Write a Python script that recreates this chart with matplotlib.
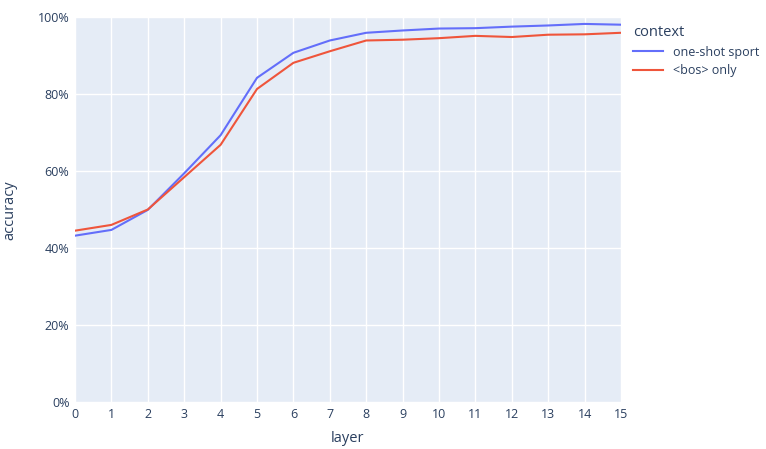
import numpy as np
import matplotlib.pyplot as plt
from matplotlib.ticker import FuncFormatter

plt.rcParams["font.family"] = ["Open Sans", "DejaVu Sans"]

layers = list(range(16))
one_shot_sport = [43.2, 44.7, 49.9, 59.4, 69.3, 84.2, 90.7, 93.9, 95.9, 96.5,
                  97.0, 97.1, 97.5, 97.8, 98.2, 98.0]
bos_only = [44.5, 46.0, 50.0, 58.4, 66.8, 81.3, 88.1, 91.1, 93.9, 94.1,
            94.5, 95.1, 94.8, 95.4, 95.5, 95.9]
series_names = ["one-shot sport", "<bos> only"]

TEXT = "#2a3f5f"
W, H = 766, 449

fig = plt.figure(figsize=(W / 100, H / 100), dpi=100)
ax = fig.add_axes([75 / W, 1 - 402 / H, 546 / W, 385 / H])
ax.set_facecolor("#E5ECF6")

ax.plot(layers, np.array(one_shot_sport) / 100, color="#636efa", lw=1.5, label=series_names[0])
ax.plot(layers, np.array(bos_only) / 100, color="#EF553B", lw=1.5, label=series_names[1])

ax.set_xlim(0, 15)
ax.set_ylim(0, 1)
ax.set_xticks(layers)
ax.set_yticks(np.arange(0, 1.01, 0.2))
ax.yaxis.set_major_formatter(FuncFormatter(lambda v, _: f"{v * 100:.0f}%"))
ax.grid(True, color="white", lw=1)
ax.set_axisbelow(True)
for s in ax.spines.values():
    s.set_visible(False)
ax.tick_params(length=0, colors=TEXT, labelsize=9, pad=4)

fig.text(10 / W, 1 - 210 / H, "accuracy", rotation=90, ha="center", va="center",
         color=TEXT, fontsize=10.5)
fig.text(348 / W, 1 - 438 / H, "layer", ha="center", va="center", color=TEXT, fontsize=10.5)

leg = ax.legend(title="context", loc="upper left", bbox_to_anchor=(628 / W, 1 - 20 / H),
                bbox_transform=fig.transFigure, frameon=False, fontsize=9,
                title_fontsize=10.5, handlelength=2.4, labelcolor=TEXT,
                borderaxespad=0, labelspacing=0.45)
leg.get_title().set_color(TEXT)
leg._legend_box.align = "left"

fig.savefig("out.png", dpi=100)
